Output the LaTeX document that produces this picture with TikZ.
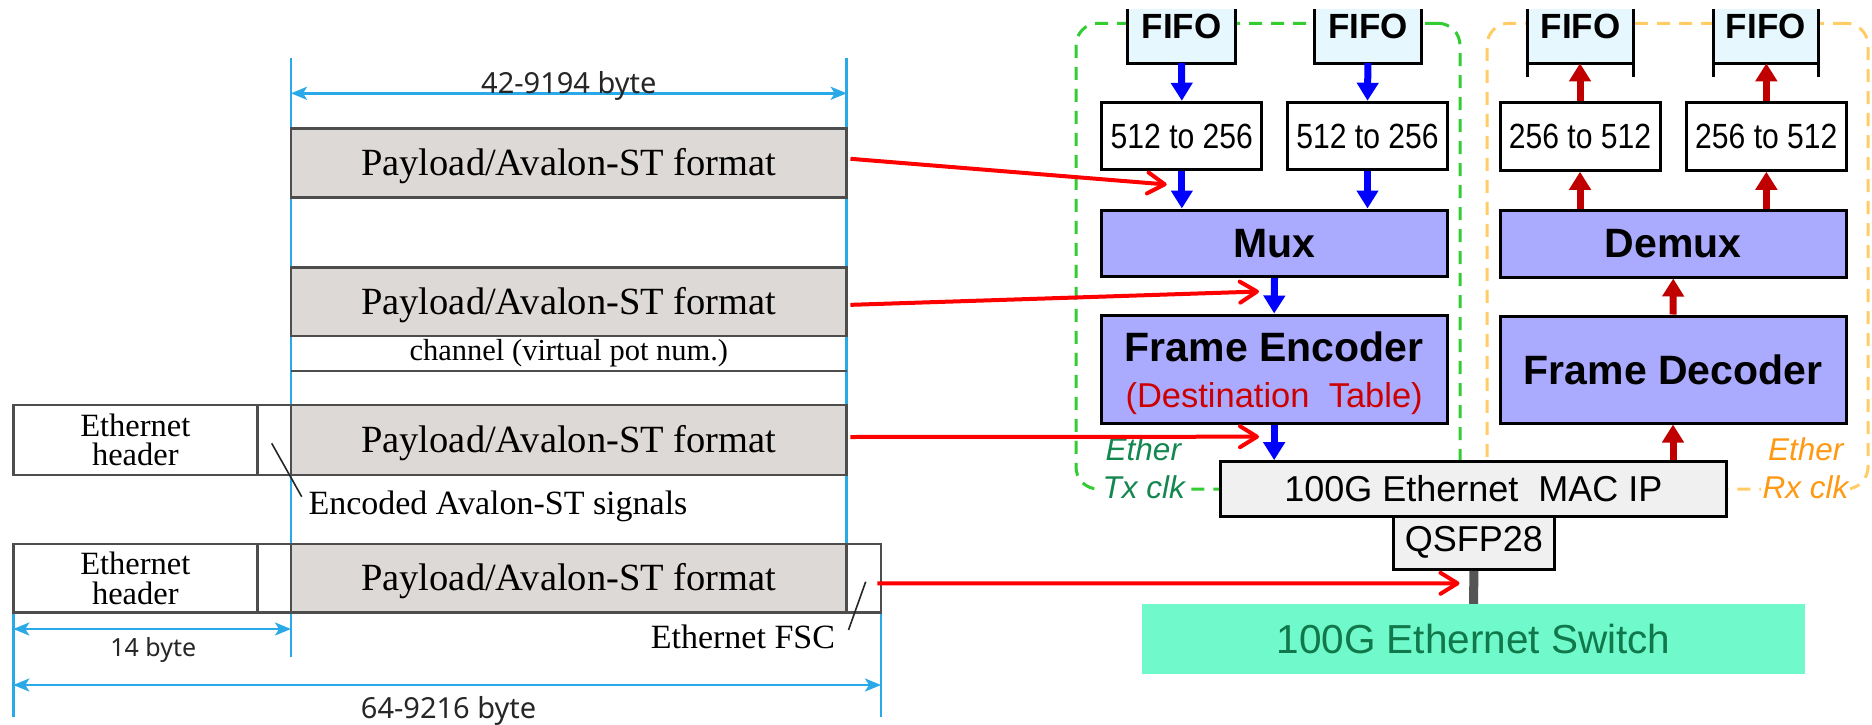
\documentclass[tikz,border=0pt]{standalone}
\usepackage{fontspec}
\usepackage{graphicx}
\usetikzlibrary{arrows.meta}
\setmainfont{Liberation Serif}
\newfontfamily\arialfont{Liberation Sans}
\newfontfamily\arialnarrow[FakeStretch=0.86]{Liberation Sans}
\newfontfamily\labelfont{Noto Sans}
\newcommand{\setpx}[2]{\fontsize{#1}{#2}\selectfont}

\definecolor{dimblue}{RGB}{41,169,232}
\definecolor{framegray}{RGB}{77,77,77}
\definecolor{payfill}{RGB}{221,217,214}
\definecolor{blockfill}{RGB}{170,170,255}
\definecolor{fifofill}{RGB}{230,247,253}
\definecolor{macfill}{RGB}{240,240,240}
\definecolor{swfill}{RGB}{112,250,203}
\definecolor{swtext}{RGB}{17,120,75}
\definecolor{txgreen}{RGB}{51,204,51}
\definecolor{rxorange}{RGB}{255,204,102}
\definecolor{txtext}{RGB}{20,135,80}
\definecolor{rxtext}{RGB}{255,153,20}
\definecolor{rxred}{RGB}{192,0,0}
\definecolor{enctext}{RGB}{204,0,0}
\definecolor{linkgray}{RGB}{85,85,85}

\begin{document}
\begin{tikzpicture}[x=1pt,y=-1pt,
  framepen/.style={draw=framegray, line width=2.5pt},
  dimline/.style={draw=dimblue, line width=2.5pt},
  dimarrow/.style={draw=dimblue, line width=2.5pt,
    {Stealth[length=16pt,width=13pt,inset=4pt]}-{Stealth[length=16pt,width=13pt,inset=4pt]}},
  dimlabel/.style={font={\labelfont\setpx{29}{34}}, text=black!85, inner sep=0pt},
  payload/.style={framepen, fill=payfill, inner sep=0pt, minimum width=555.7pt,
    text depth=2pt, font={\setpx{38.5}{44}}},
  hdrcell/.style={framepen, fill=white, inner sep=0pt, minimum width=244pt, align=center,
    font={\setpx{32.5}{29.5}}},
  gapcell/.style={framepen, fill=white, inner sep=0pt},
  notetext/.style={font={\setpx{34}{40}}, inner sep=0pt},
  leaderline/.style={draw=black!85, line width=1.6pt},
  redarr/.style={draw=red, line width=4pt,
    -{Straight Barb[length=17pt,width=21pt,round]}},
  blk/.style={draw=black, line width=3pt, inner sep=0pt},
  blkline/.style={draw=black, line width=3pt},
  fifobox/.style={fill=fifofill, inner sep=0pt, minimum width=107pt, minimum height=54pt},
  fifotxt/.style={font={\arialfont\bfseries\setpx{35}{40}}, inner sep=0pt},
  convbox/.style={blk, fill=white, minimum width=160pt, minimum height=67.5pt,
    font={\arialnarrow\setpx{35}{40}}},
  procblock/.style={blk, fill=blockfill, minimum width=346pt, font={\arialfont\bfseries\setpx{41}{46}}},
  txarr/.style={draw=blue, line width=7pt, -{Triangle[length=18pt,width=21pt]}},
  rxarr/.style={draw=rxred, line width=7pt, -{Triangle[length=18pt,width=21pt]}},
  clkregion/.style={line width=3pt, dash pattern=on 13pt off 9pt, rounded corners=22pt,
    inner sep=0pt, minimum height=465.7pt},
  clktxt/.style={font={\arialfont\itshape\setpx{31.5}{36}}, inner sep=1.5pt, fill=white}
]
\useasboundingbox (0,0) rectangle (1872,725);
\fill[white] (0,0) rectangle (1872,725);

% ---------------- frame format (left) ----------------
% extension lines of the byte dimensions
\coordinate (d1t) at (291,58);     \coordinate (d1b) at (291,656.7);
\coordinate (d2t) at (846.7,58);   \coordinate (d2b) at (846.7,544);
\coordinate (d3t) at (13.3,612.7); \coordinate (d3b) at (13.3,716.7);
\coordinate (d4t) at (881,612.7);  \coordinate (d4b) at (881,716.7);
\draw[dimline] (d1t) -- (d1b);
\draw[dimline] (d2t) -- (d2b);
\draw[dimline] (d3t) -- (d3b);
\draw[dimline] (d4t) -- (d4b);

% dimension arrows
\coordinate (a1l) at (291,93.3);   \coordinate (a1r) at (846.7,93.3);
\coordinate (a2l) at (13.3,629);   \coordinate (a2r) at (291,629);
\coordinate (a3l) at (13.3,685);   \coordinate (a3r) at (881,685);
\draw[dimarrow] (a1l) -- (a1r);
\draw[dimarrow] (a2l) -- (a2r);
\draw[dimarrow] (a3l) -- (a3r);
\node[dimlabel, anchor=base] (lbl1) at (568.85,94) {42-9194 byte};
\node[dimlabel, anchor=base, font={\labelfont\setpx{25}{30}}] (lbl2) at (153.3,656.7) {14 byte};
\node[dimlabel, anchor=base] (lbl3) at (448.6,718) {64-9216 byte};

% payload only
\node[payload, minimum height=69pt] (p1) at (568.85,162.8) {Payload/Avalon-ST format};

% payload with channel field
\node[inner sep=0pt, minimum width=555.7pt, minimum height=35pt,
      font={\setpx{30.5}{36}}] (ch) at (568.85,353.5) {channel (virtual pot num.)};
\draw[framepen] (ch.south west) -- (ch.south east);
\node[payload, minimum height=68.3pt] (p2) at (568.85,301.85) {Payload/Avalon-ST format};

% header + encoded signals + payload
\node[hdrcell, minimum height=70pt] (h3) at (135.3,440) {Ethernet\\header};
\node[gapcell, minimum width=33.7pt, minimum height=70pt] (e3) at (274.15,440) {};
\node[payload, minimum height=70pt] (p3) at (568.85,440) {Payload/Avalon-ST format};

% full Ethernet frame
\node[hdrcell, minimum height=68.7pt] (h4) at (135.3,578.35) {Ethernet\\header};
\node[gapcell, minimum width=33.7pt, minimum height=68.7pt] (e4) at (274.15,578.35) {};
\node[payload, minimum height=68.7pt] (p4) at (568.85,578.35) {Payload/Avalon-ST format};
\node[gapcell, minimum width=34.3pt, minimum height=68.7pt] (fsc) at (863.85,578.35) {};

% callouts
\node[notetext, anchor=base west] (enclbl) at (308.3,514) {Encoded Avalon-ST signals};
\node[notetext, anchor=base east] (fsclbl) at (835.2,648.3) {Ethernet FSC};
\coordinate (encA) at (271.7,443.3); \coordinate (encB) at (301.7,496.7);
\coordinate (fscA) at (865.7,581.7); \coordinate (fscB) at (848.5,630);
\draw[leaderline] (encA) -- (encB);
\draw[leaderline] (fscA) -- (fscB);

% ---------------- hardware blocks (right) ----------------
% clock domains
\node[clkregion, draw=txgreen, minimum width=384pt] (txdom) at (1268,256.15) {};
\node[clkregion, draw=rxorange, minimum width=381pt] (rxdom) at (1677.5,256.15) {};

% FIFOs (Tx side)
\node[fifobox] (tf1) at (1181.5,36) {};
\node[fifobox] (tf2) at (1367.9,36) {};
\foreach \f in {tf1,tf2}{
  \draw[blkline] (\f.north west) -- (\f.south west) -- (\f.south east) -- (\f.north east);
  \node[fifotxt] at ([yshift=10pt]\f.center) {FIFO};
}
% FIFOs (Rx side)
\node[fifobox, minimum width=105.6pt] (rf1) at (1580.5,36.1) {};
\node[fifobox, minimum width=105pt] (rf2) at (1765.8,36.1) {};
\foreach \f in {rf1,rf2}{
  \draw[blkline] (\f.north west) -- ([yshift=-13.4pt]\f.south west);
  \draw[blkline] (\f.north east) -- ([yshift=-13.4pt]\f.south east);
  \draw[blkline] (\f.south west) -- (\f.south east);
  \node[fifotxt] at ([yshift=10pt]\f.center) {FIFO};
}

% width converters
\node[convbox] (b1) at (1181.85,136) {512 to 256};
\node[convbox] (b2) at (1367.5,136) {512 to 256};
\node[convbox] (r1) at (1580,136.5) {256 to 512};
\node[convbox] (r2) at (1766.35,136.5) {256 to 512};

% mux / demux
\node[procblock, minimum height=66.7pt] (mux) at (1274.5,243.35) {Mux};
\node[procblock, minimum height=67pt] (demux) at (1673.25,243.5) {Demux};

% frame encoder / decoder
\node[procblock, minimum height=108.3pt] (enc) at (1274.15,369.15) {};
\node[font={\arialfont\bfseries\setpx{41}{46}}, anchor=base, inner sep=0pt]
  at ([yshift=7.5pt]enc.center) {Frame Encoder};
\node[font={\arialfont\setpx{34.5}{40}}, text=enctext, anchor=base, inner sep=0pt]
  at ([yshift=-38.2pt]enc.center) {(Destination\ \ Table)};
\node[procblock, minimum height=107pt] (dec) at (1673,369.5) {Frame Decoder};

% MAC, transceiver and switch
\node[blk, fill=macfill, minimum width=506pt, minimum height=54.3pt,
      font={\arialfont\setpx{36}{42}}] (mac) at (1473.4,488.85) {100G Ethernet\ \ MAC IP};
\node[blk, fill=macfill, minimum width=160.7pt, minimum height=53.3pt,
      font={\arialfont\setpx{36}{42}}] (qsfp) at (1473.95,542.65) {QSFP28};
\node[fill=swfill, inner sep=0pt, minimum width=663pt, minimum height=70.3pt,
      font={\arialfont\setpx{40.5}{46}}, text=swtext] (sw) at (1473.5,639.15) {100G Ethernet Switch};
\draw[draw=linkgray, line width=9pt] (qsfp.south) -- (sw.north);

% clock domain labels
\node[clktxt, anchor=base west, text=txtext] (txe) at (1104,460) {Ether};
\node[clktxt, anchor=base west, text=txtext] (txc) at (1101,498) {Tx clk};
\node[clktxt, anchor=base east, text=rxtext] (rxe) at (1845,460) {Ether};
\node[clktxt, anchor=base east, text=rxtext] (rxc) at (1850,498) {Rx clk};

% transmit data path
\draw[txarr] (tf1.south) -- (b1.north);
\draw[txarr] (tf2.south) -- (b2.north);
\draw[txarr] (b1.south) -- (b1.south |- mux.north);
\draw[txarr] (b2.south) -- (b2.south |- mux.north);
\draw[txarr] (mux.south) -- (enc.north);
\draw[txarr] (enc.south) -- (enc.south |- mac.north);

% receive data path
\draw[rxarr] (dec.south |- mac.north) -- (dec.south);
\draw[rxarr] (dec.north) -- (demux.south);
\draw[rxarr] (r1.south |- demux.north) -- (r1.south);
\draw[rxarr] (r2.south |- demux.north) -- (r2.south);
\draw[rxarr] (r1.north) -- (r1.north |- rf1.south);
\draw[rxarr] (r2.north) -- (r2.north |- rf2.south);

% where each format appears
\coordinate (t1) at (1166.7,184.5);
\coordinate (t2) at (1259,291.5);
\coordinate (t3) at (1259,436.7);
\coordinate (t4) at (1459.5,583.3);
\draw[redarr] ([xshift=2.5pt,yshift=4pt]p1.east) -- (t1);
\draw[redarr] ([xshift=2.5pt,yshift=-3pt]p2.east) -- (t2);
\draw[redarr] ([xshift=2.5pt,yshift=3pt]p3.east) -- (t3);
\draw[redarr] ([xshift=-5pt,yshift=-5pt]fsc.east) -- (t4);
\end{tikzpicture}
\end{document}
